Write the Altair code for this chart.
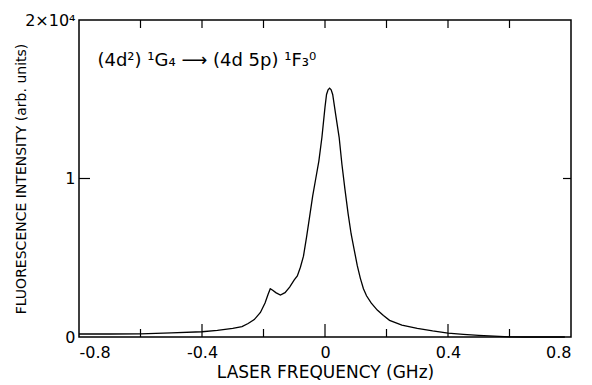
import altair as alt
import pandas as pd

# Laser frequency (GHz) and fluorescence intensity (arb. units)
freq = [-0.80, -0.70, -0.60, -0.50, -0.40, -0.35, -0.30, -0.27, -0.25, -0.23,
        -0.21, -0.195, -0.185, -0.178, -0.17, -0.16, -0.145, -0.13, -0.115, -0.10,
        -0.09, -0.08, -0.07, -0.06, -0.05, -0.04, -0.03, -0.02, -0.01, 0.0,
        0.005, 0.010, 0.015, 0.020, 0.025, 0.035, 0.046, 0.055, 0.065, 0.075,
        0.085, 0.095, 0.105, 0.115, 0.125, 0.135, 0.15, 0.17, 0.19, 0.21,
        0.25, 0.30, 0.35, 0.40, 0.45, 0.50, 0.55, 0.60, 0.65, 0.70,
        0.75, 0.78]
intensity = [190, 190, 200, 260, 330, 420, 540, 650, 850, 1100,
             1550, 2150, 2700, 3050, 2950, 2800, 2650, 2800, 3150, 3600,
             3850, 4400, 5100, 6300, 7600, 8900, 10000, 11100, 12600, 14500,
             15300, 15600, 15700, 15600, 15300, 14000, 12600, 10900, 9300, 7800,
             6500, 5500, 4500, 3700, 3050, 2600, 2150, 1700, 1350, 1050,
             750, 540, 380, 250, 170, 100, 50, 10, 0, 0,
             0, 0]

x_label_values = [-0.8, -0.4, 0, 0.4, 0.8]
x_minor_ticks = [-0.6, -0.2, 0.2, 0.6]
x_major_ticks = [-0.4, 0.0, 0.4]
x_top_ticks = [-0.6, -0.4, -0.2, 0.0, 0.2, 0.4, 0.6]
y_label_values = [0, 10000, 20000]
y_ticks = [10000]

annotation = "(4d²) ¹G₄ ⟶ (4d 5p) ¹F₃⁰"

FONT = "DejaVu Sans"
W, H = 492, 317

df = pd.DataFrame({"f": freq, "I": intensity})

xscale = alt.Scale(domain=[-0.8, 0.8], nice=False, zero=False)
yscale = alt.Scale(domain=[0, 20000], nice=False)

xaxis = alt.Axis(values=x_label_values, grid=False, ticks=False, domain=False,
                 labelExpr="datum.value == 0 ? '0' : replace(format(datum.value, '.1f'), '−', '-')",
                 labelFont=FONT, labelFontSize=16, labelColor="black", labelPadding=7,
                 title="LASER FREQUENCY (GHz)", titleFont=FONT, titleFontSize=17,
                 titleFontWeight="normal", titleColor="black", titlePadding=4)
yaxis = alt.Axis(values=y_label_values, grid=False, ticks=False, domain=False,
                 labelExpr="datum.value == 0 ? '0' : datum.value == 10000 ? '1' : '2×10⁴'",
                 labelFont=FONT, labelFontSize=16, labelColor="black", labelPadding=4,
                 title="FLUORESCENCE INTENSITY (arb. units)", titleFont=FONT,
                 titleFontSize=14, titleFontWeight="normal", titleColor="black",
                 titleX=-58, titleY=H / 2, titleAngle=270, titleAlign="center",
                 titleBaseline="middle")

line = alt.Chart(df).mark_line(color="black", strokeWidth=1.3).encode(
    x=alt.X("f:Q", scale=xscale, axis=xaxis),
    y=alt.Y("I:Q", scale=yscale, axis=yaxis),
)

def xticks(vals, y0, y1):
    return alt.Chart(pd.DataFrame({"f": vals})).mark_rule(color="black", strokeWidth=1.2).encode(
        x=alt.X("f:Q", scale=xscale), y=alt.value(y0), y2=alt.value(y1))

def yticks(vals, x0, x1):
    return alt.Chart(pd.DataFrame({"I": vals})).mark_rule(color="black", strokeWidth=1.2).encode(
        y=alt.Y("I:Q", scale=yscale), x=alt.value(x0), x2=alt.value(x1))

ticks = [
    xticks(x_major_ticks, H, H - 13),
    xticks(x_minor_ticks, H, H - 8),
    xticks(x_top_ticks, 0, 8),
    yticks(y_ticks, 0, 11),
    yticks(y_ticks, W, W - 8),
]

text = alt.Chart(pd.DataFrame({"f": [-0.74], "I": [17400], "t": [annotation]})).mark_text(
    align="left", baseline="middle", font=FONT, fontSize=18, color="black"
).encode(x=alt.X("f:Q", scale=xscale), y=alt.Y("I:Q", scale=yscale), text="t:N")

chart = alt.layer(line, *ticks, text).properties(
    width=W, height=H,
    padding={"left": 79, "top": 20, "right": 21, "bottom": 48},
    autosize=alt.AutoSizeParams(type="none"),
    background="white",
).configure_view(stroke="black", strokeWidth=1.5)

chart.save("out.html", embed_options={"renderer": "svg", "actions": False})
